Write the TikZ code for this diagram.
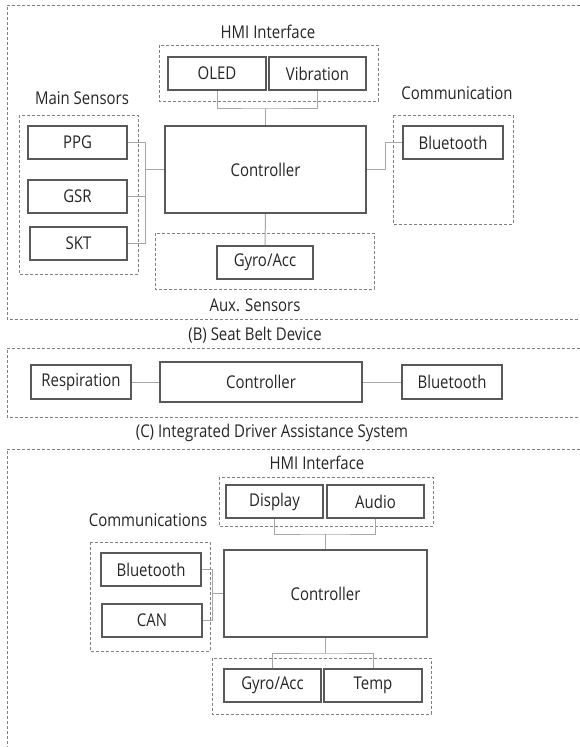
\documentclass[tikz,border=0pt]{standalone}
\usepackage{fontspec}
\setmainfont{Open Sans}[FakeStretch=0.85]
\usetikzlibrary{positioning}
\definecolor{boxgray}{HTML}{595959}
\definecolor{wiregray}{HTML}{A6A6A6}
\definecolor{dashgray}{HTML}{808080}
\definecolor{txtgray}{HTML}{262626}

\begin{document}
\begin{tikzpicture}[x=1pt,y=-1pt,
    unit/.style={draw=boxgray,line width=1.6pt,inner sep=0pt,minimum height=33,text=txtgray,font=\fontsize{17.6}{20}\selectfont},
    wire/.style={draw=wiregray,line width=1pt},
    group/.style={draw=dashgray,line width=0.9pt,dash pattern=on 3pt off 2pt},
    grouplabel/.style={text=txtgray,font=\fontsize{17.6}{20}\selectfont,inner sep=0pt}]
    \useasboundingbox[fill=white] (0,0) rectangle (579,747);

    % (A) wearable device
    \draw[group] (600,5) -| (7,319) -- (600,319);
    \node[grouplabel] (hmiAlbl) at (268,32) {HMI Interface};
    \draw[group] (159,45) rectangle (378,101);
    \node[unit,minimum width=98] (oled) at (217,73.5) {OLED};
    \node[unit,minimum width=97] (vib) at (317.5,73.5) {Vibration};
    \node[unit,minimum width=201,minimum height=87] (ctrlA) at (265.5,169.5) {Controller};
    \node[grouplabel] (mainlbl) at (82,98) {Main Sensors};
    \draw[group] (19,115) rectangle (138,274);
    \node[unit,minimum width=99] (ppg) at (77.5,142.5) {PPG};
    \node[unit,minimum width=99] (gsr) at (77.5,196.5) {GSR};
    \node[unit,minimum width=97] (skt) at (78.5,243.5) {SKT};
    \node[grouplabel] (commAlbl) at (457,93) {Communication};
    \draw[group] (393,115) rectangle (513,224);
    \node[unit,minimum width=100] (btA) at (453,142.5) {Bluetooth};
    \draw[group] (155,233) rectangle (374,289);
    \node[unit,minimum width=96] (gyroA) at (265,262.5) {Gyro/Acc};
    \node[grouplabel] (auxlbl) at (255,305) {Aux. Sensors};

    \coordinate (hmiAjoin) at (265.5,108);
    \draw[wire] (oled.south) |- (hmiAjoin) -| (vib.south);
    \draw[wire] (hmiAjoin) -- (ctrlA.north);
    \draw[wire] (ctrlA.west) -- ++(-19,0) coordinate (mainbus);
    \draw[wire] (ppg.east) -| (mainbus) |- (skt.east);
    \draw[wire] (gsr.east) -- (gsr.east -| mainbus);
    \draw[wire] (ctrlA.east) -- ++(19,0) |- (btA.west);
    \draw[wire] (ctrlA.south) -- (gyroA.north);

    % (B) seat belt device
    \node[grouplabel] (blbl) at (255,335) {(B) Seat Belt Device};
    \draw[group] (600,348) -| (7,417) -- (600,417);
    \node[unit,minimum width=100,minimum height=34] (resp) at (81,382) {Respiration};
    \node[unit,minimum width=202,minimum height=40] (ctrlB) at (261,382) {Controller};
    \node[unit,minimum width=100,minimum height=34] (btB) at (452,382) {Bluetooth};
    \draw[wire] (resp) -- (ctrlB);
    \draw[wire] (ctrlB) -- (btB);

    % (C) integrated driver assistance system
    \node[grouplabel] (clbl) at (272,433) {(C) Integrated Driver Assistance System};
    \draw[group] (600,449) -| (7,760);
    \node[grouplabel] (hmiClbl) at (317,463) {HMI Interface};
    \draw[group] (219,477) rectangle (433,526);
    \node[unit,minimum width=97] (display) at (274.5,501.5) {Display};
    \node[unit,minimum width=97] (audio) at (375.5,501.5) {Audio};
    \node[unit,minimum width=203,minimum height=87] (ctrlC) at (325.5,593.5) {Controller};
    \node[grouplabel] (commClbl) at (148,520) {Communications};
    \draw[group] (90,542) rectangle (210,651);
    \node[unit,minimum width=100] (btC) at (151,569.5) {Bluetooth};
    \node[unit,minimum width=100] (can) at (152,620.5) {CAN};
    \draw[group] (212,658) rectangle (431,714);
    \node[unit,minimum width=97] (gyroC) at (272.5,685.5) {Gyro/Acc};
    \node[unit,minimum width=98] (temp) at (373,685.5) {Temp};

    \coordinate (hmiCjoin) at (325.5,534);
    \draw[wire] (display.south) |- (hmiCjoin) -| (audio.south);
    \draw[wire] (hmiCjoin) -- (ctrlC.north);
    \draw[wire] (ctrlC.west) -- ++(-11,0) coordinate (commbus);
    \draw[wire] (btC.east) -| (commbus) |- (can.east);
    \coordinate (sensCjoin) at (325.5,653);
    \draw[wire] (ctrlC.south) -- (sensCjoin);
    \draw[wire] (gyroC.north) |- (sensCjoin) -| (temp.north);
\end{tikzpicture}
\end{document}
